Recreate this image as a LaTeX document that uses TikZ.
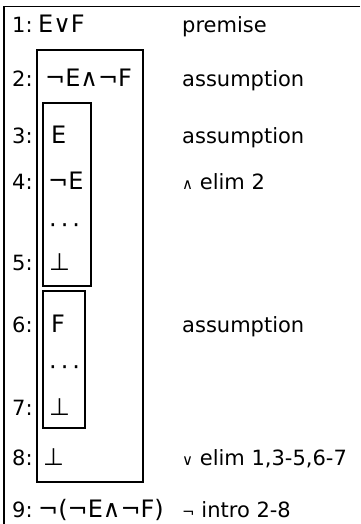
\documentclass[tikz,border=0pt]{standalone}
\usepackage{fontspec}
\setmainfont{DejaVu Sans}
\usepackage{tikz}

\newcommand{\opsym}[1]{{\fontsize{15}{18}\selectfont #1}}

\begin{document}
\begin{tikzpicture}[x=1pt,y=-1pt,
		lnum/.style={anchor=base west, inner sep=0pt, font=\fontsize{21}{24}\selectfont},
		fml/.style={anchor=base west, inner sep=0pt, font=\fontsize{24}{28}\selectfont},
		rule/.style={anchor=base west, inner sep=0pt, font=\fontsize{21}{24}\selectfont},
		subproof/.style={draw=black, line width=1.2pt}]
				\useasboundingbox (0,0) rectangle (360,524);
				% frame
				\coordinate (top) at (360,6.5);
				\coordinate (corner) at (4,6.5);
				\coordinate (foot) at (4,524);
				\draw[line width=1.8pt] (top) -- (corner) -- (foot);
				
				% subproof boxes
				\draw[subproof] (37,50) rectangle (143,482);
				\draw[subproof] (43,103) rectangle (91,286);
				\draw[subproof] (43,291) rectangle (85,428);
				
				% line numbers
				\node[lnum] (n1) at (12,33) {1:};
				\node[lnum] (n2) at (12,87) {2:};
				\node[lnum] (n3) at (12,143) {3:};
				\node[lnum] (n4) at (12,189) {4:};
				\node[lnum] (n5) at (12,270) {5:};
				\node[lnum] (n6) at (12,332) {6:};
				\node[lnum] (n7) at (12,415) {7:};
				\node[lnum] (n8) at (12,465) {8:};
				\node[lnum] (n9) at (12,517) {9:};
				
				% formulas
				\node[fml] (f1) at (38,33) {E∨F};
				\node[fml] (f2) at (45,87) {¬E∧¬F};
				\node[fml] (f3) at (51,143) {E};
				\node[fml] (f4) at (48,189) {¬E};
				\node[fml] (d1) at (49,233) {·\,·\,·};
				\node[fml] (f5) at (49,270) {⊥};
				\node[fml] (f6) at (51,332) {F};
				\node[fml] (d2) at (49,375) {·\,·\,·};
				\node[fml] (f7) at (49,415) {⊥};
				\node[fml] (f8) at (43,465) {⊥};
				\node[fml] (f9) at (38,517) {¬(¬E∧¬F)};
				
				% justifications
				\node[rule] (r1) at (182,33) {premise};
				\node[rule] (r2) at (182,87) {assumption};
				\node[rule] (r3) at (182,143) {assumption};
				\node[rule] (r4) at (182,189) {\opsym{∧} elim 2};
				\node[rule] (r6) at (182,332) {assumption};
				\node[rule] (r8) at (182,465) {\opsym{∨} elim 1,3-5,6-7};
				\node[rule] (r9) at (182,517) {\opsym{¬} intro 2-8};
			\end{tikzpicture}
\end{document}
